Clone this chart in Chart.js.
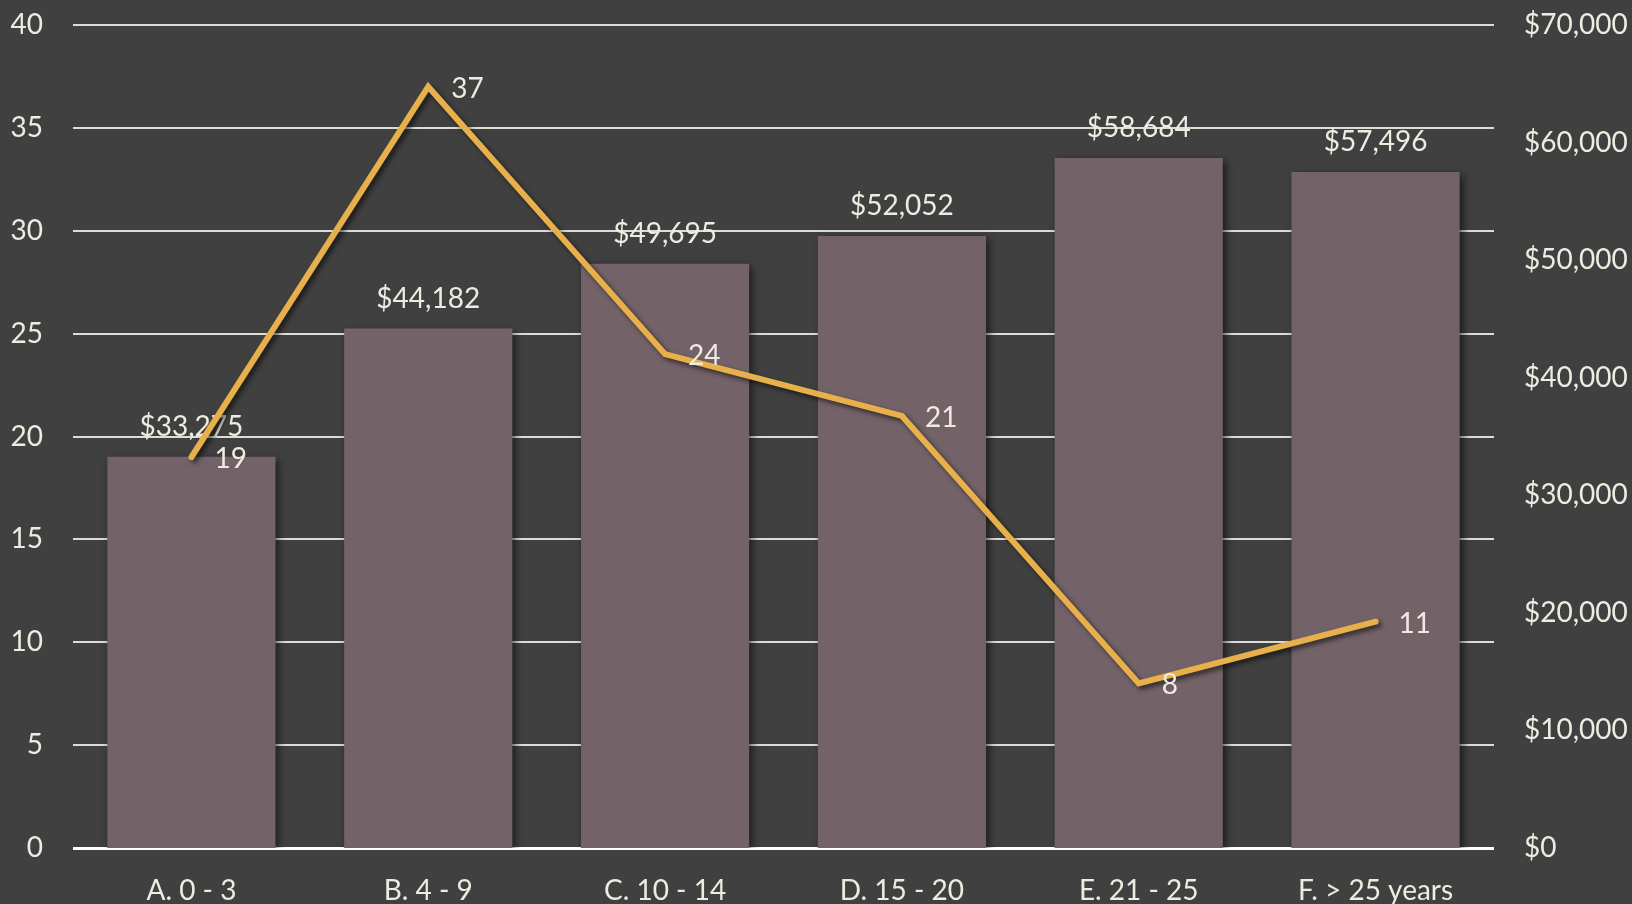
<!DOCTYPE html>
<html>
<head>
<meta charset="utf-8">
<script src="https://cdn.jsdelivr.net/npm/chart.js@4/dist/chart.umd.min.js"></script>
<style>
  html, body { margin: 0; padding: 0; background: #404040; }
  #wrap { width: 1632px; height: 904px; }
</style>
</head>
<body>
<div id="wrap"><canvas id="myChart" width="1632" height="904"></canvas></div>
<script>
// data
const categories = ['A. 0 - 3', 'B. 4 - 9', 'C. 10 - 14', 'D. 15 - 20', 'E. 21 - 25', 'F. > 25 years'];
const salaries = [33275, 44182, 49695, 52052, 58684, 57496];
const counts = [19, 37, 24, 21, 8, 11];

const textColor = '#EEECE1';
const font = { family: 'Lato', size: 28 };

const money = v => '$' + v.toLocaleString('en-US');

// soft drop shadow under bars and the line, then the value labels
const shadowPlugin = {
  id: 'shadow',
  beforeDatasetDraw(chart, args) {
    const ctx = chart.ctx;
    ctx.save();
    ctx.shadowColor = 'rgba(0,0,0,0.6)';
    ctx.shadowBlur = args.index === 0 ? 8 : 5;
    ctx.shadowOffsetX = 3;
    ctx.shadowOffsetY = 3;
  },
  afterDatasetDraw(chart, args) {
    const ctx = chart.ctx;
    ctx.restore();
    const meta = args.meta;
    ctx.save();
    ctx.font = font.size + 'px ' + font.family;
    ctx.fillStyle = textColor;
    ctx.textBaseline = 'middle';
    if (args.index === 0) {
      ctx.textAlign = 'center';
      meta.data.forEach((bar, i) => {
        ctx.fillText(money(salaries[i]), bar.x, bar.y - 30);
      });
    } else {
      ctx.textAlign = 'left';
      meta.data.forEach((pt, i) => {
        ctx.fillText(String(counts[i]), pt.x + 23, pt.y + 2);
      });
    }
    ctx.restore();
  }
};

// fixed axis sizes, and no extra top/bottom padding from the tick padding
const fixY = w => s => { s.width = w; s.paddingTop = 0; s.paddingBottom = 0; };

const ctx = document.getElementById('myChart').getContext('2d');

new Chart(ctx, {
  type: 'bar',
  data: {
    labels: categories,
    datasets: [{
      type: 'bar',
      data: salaries,
      yAxisID: 'y1',
      backgroundColor: '#736369',
      borderWidth: 0,
      barPercentage: 0.71,
      categoryPercentage: 1,
      order: 1
    }, {
      type: 'line',
      data: counts,
      yAxisID: 'y',
      borderColor: '#E8B04A',
      borderWidth: 6,
      borderCapStyle: 'round',
      borderJoinStyle: 'miter',
      pointRadius: 0,
      tension: 0,
      order: 0
    }]
  },
  options: {
    responsive: false,
    animation: false,
    layout: { padding: { top: 25, right: 0, bottom: 0, left: 0 } },
    plugins: {
      legend: { display: false },
      tooltip: { enabled: false }
    },
    scales: {
      x: {
        grid: { display: false, drawTicks: false },
        border: { display: false },
        ticks: { color: textColor, font: font, padding: 26, maxRotation: 0 },
        afterFit: s => { s.height = 56; }
      },
      y: {
        position: 'left',
        min: 0,
        max: 40,
        ticks: { stepSize: 5, color: textColor, font: font, padding: 30 },
        grid: {
          drawTicks: false,
          color: c => c.tick.value === 0 ? '#FFFFFF' : '#DDDDD5',
          lineWidth: c => c.tick.value === 0 ? 3 : 2
        },
        border: { display: false },
        afterFit: fixY(73)
      },
      y1: {
        position: 'right',
        min: 0,
        max: 70000,
        ticks: { stepSize: 10000, color: textColor, font: font, padding: 30, callback: v => money(v) },
        grid: { display: false, drawTicks: false },
        border: { display: false },
        afterFit: fixY(138)
      }
    }
  },
  plugins: [shadowPlugin]
});
</script>
</body>
</html>
